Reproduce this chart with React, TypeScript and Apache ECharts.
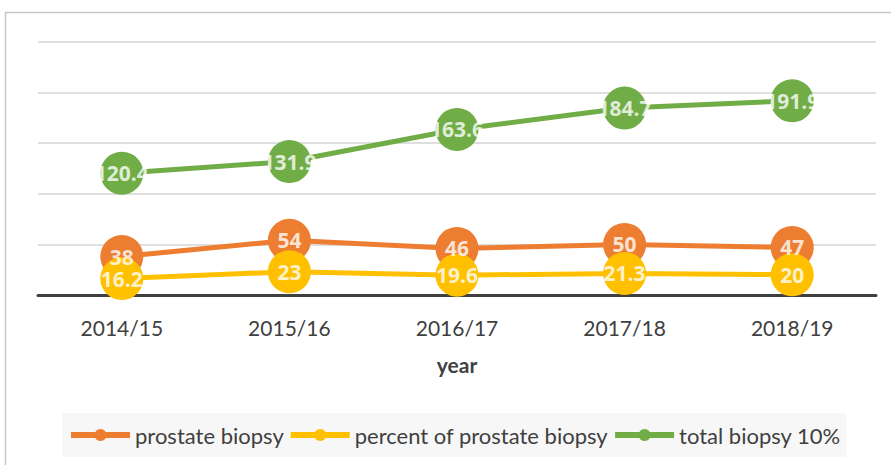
import React, { useEffect, useRef } from "react";
import * as echarts from "echarts";

const categories = ["2014/15", "2015/16", "2016/17", "2017/18", "2018/19"];
const prostateBiopsy = [38, 54, 46, 50, 47];
const percentProstate = [16.2, 23, 19.6, 21.3, 20];
const totalBiopsy = [120.4, 131.9, 163.6, 184.7, 191.9];
const seriesNames = ["prostate biopsy", "percent of prostate biopsy", "total biopsy 10%"];
const colors = ["#ED7D31", "#FFC000", "#70AD47"];

const FONT = "Lato, 'Open Sans', sans-serif";
const LABEL_FONT = "'Open Sans', Lato, sans-serif";

export default function App() {
  const ref = useRef<HTMLDivElement>(null);
  useEffect(() => {
    if (!ref.current) return;
    const chart = echarts.init(ref.current, undefined, { renderer: "svg" });
    const mk = (name: string, data: number[], color: string, z: number) => ({
      name,
      type: "line",
      data,
      z,
      symbol: "circle",
      symbolSize: 43,
      itemStyle: { color },
      lineStyle: { color, width: 5 },
      label: { show: false },
    });
    const lbl = (name: string, data: number[]) => ({
      name: name + " labels",
      type: "scatter",
      data,
      z: 20,
      symbolSize: 0,
      silent: true,
      label: {
        show: true,
        position: "inside",
        color: "#ffffff",
        fontFamily: LABEL_FONT,
        fontWeight: "bold",
        fontSize: 21,
      },
    });
    chart.setOption({
      animation: false,
      backgroundColor: "#ffffff",
      textStyle: { fontFamily: FONT },
      graphic: [
        {
          type: "rect",
          shape: { x: 5.5, y: 12.5, width: 900, height: 500 },
          style: { fill: "none", stroke: "#c6c6c6", lineWidth: 1.5 },
          silent: true,
          z: -10,
        },
      ],
      grid: { left: 38, right: 15, top: 42, bottom: 170, containLabel: false },
      xAxis: {
        type: "category",
        data: categories,
        boundaryGap: true,
        name: "year",
        nameLocation: "middle",
        nameGap: 59,
        nameTextStyle: { color: "#404040", fontSize: 21, fontWeight: "bold", fontFamily: FONT },
        axisLine: { show: true, lineStyle: { color: "#404040", width: 3 } },
        axisTick: { show: false },
        axisLabel: { color: "#404040", fontSize: 21, fontFamily: FONT, margin: 22 },
      },
      yAxis: {
        type: "value",
        min: 0,
        max: 250,
        interval: 50,
        axisLabel: { show: false },
        axisLine: { show: false },
        axisTick: { show: false },
        splitLine: { lineStyle: { color: "#d4d4d4", width: 1.5 } },
      },
      legend: {
        data: seriesNames,
        left: 62,
        top: 413,
        padding: [11, 6, 11, 6],
        itemGap: 4,
        itemWidth: 59,
        itemHeight: 15,
        backgroundColor: "#f7f7f7",
        lineStyle: { width: 6 },
        textStyle: { color: "#404040", fontSize: 22, fontFamily: FONT },
      },
      series: [
        mk(seriesNames[0], prostateBiopsy, colors[0], 2),
        mk(seriesNames[1], percentProstate, colors[1], 3),
        mk(seriesNames[2], totalBiopsy, colors[2], 4),
        lbl(seriesNames[0], prostateBiopsy),
        lbl(seriesNames[1], percentProstate),
        lbl(seriesNames[2], totalBiopsy),
      ],
    });
    return () => chart.dispose();
  }, []);
  return (
    <div
      ref={ref}
      style={{ position: "absolute", left: 0, top: 0, width: 891, height: 465 }}
    />
  );
}
